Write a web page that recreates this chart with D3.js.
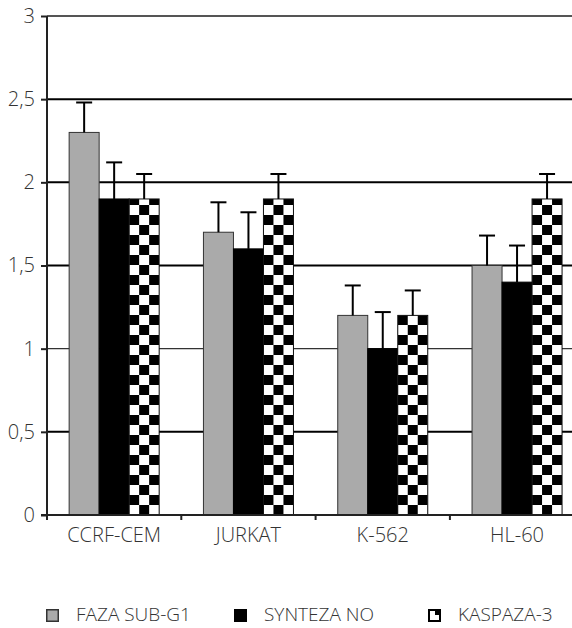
<!DOCTYPE html>
<html>
<head>
<meta charset="utf-8">
<script src="https://cdn.jsdelivr.net/npm/d3@7"></script>
<style>
  body { margin: 0; background: #fff; }
  text { font-family: "Open Sans", sans-serif; font-weight: 300; fill: #333; }
</style>
</head>
<body>
<svg></svg>
<script>
var width = 572;
var height = 628;

// data
var categories = ['CCRF-CEM', 'JURKAT', 'K-562', 'HL-60'];
var series = ['FAZA SUB-G1', 'SYNTEZA NO', 'KASPAZA-3'];
var subG1 = [2.3, 1.7, 1.2, 1.5];
var subG1Err = [2.48, 1.88, 1.38, 1.68];
var syntezaNO = [1.9, 1.6, 1.0, 1.4];
var syntezaNOErr = [2.12, 1.82, 1.22, 1.62];
var kaspaza3 = [1.9, 1.9, 1.2, 1.9];
var kaspaza3Err = [2.05, 2.05, 1.35, 2.05];
var yTicks = [0, 0.5, 1, 1.5, 2, 2.5, 3];

var values = [subG1, syntezaNO, kaspaza3];
var errors = [subG1Err, syntezaNOErr, kaspaza3Err];

var svg = d3.select('svg')
    .attr('width', width)
    .attr('height', height);

var x = d3.scaleBand()
    .domain(categories)
    .range([47, 47 + 4 * 134.3]);

var xs = d3.scaleBand()
    .domain(series)
    .range([0, x.bandwidth()])
    .paddingOuter(0.738);

var y = d3.scaleLinear()
    .domain([0, 3])
    .range([515, 16]);

var fmt = function (d) { return String(d).replace('.', ','); };

// checker patterns, one per category so they line up with the bar
var defs = svg.append('defs');
categories.forEach(function (c, i) {
    var p = defs.append('pattern')
        .attr('id', 'chk' + i)
        .attr('patternUnits', 'userSpaceOnUse')
        .attr('x', x(c) + xs(series[2]))
        .attr('y', y(0))
        .attr('width', 20)
        .attr('height', 20);
    p.append('rect').attr('width', 20).attr('height', 20).attr('fill', '#fff');
    p.append('rect').attr('x', 0).attr('y', 0).attr('width', 10).attr('height', 10).attr('fill', '#000');
    p.append('rect').attr('x', 10).attr('y', 10).attr('width', 10).attr('height', 10).attr('fill', '#000');
});

// grid lines
svg.append('g')
    .selectAll('line')
    .data(yTicks.slice(1))
    .enter()
    .append('line')
    .attr('x1', 47)
    .attr('x2', width)
    .attr('y1', function (d) { return y(d); })
    .attr('y2', function (d) { return y(d); })
    .attr('stroke', function (d) { return d === 3 ? '#555' : (d === 1 ? '#333' : '#000'); })
    .attr('stroke-width', function (d) { return d === 1 ? 1.2 : 2; });

// bars
var fills = ['#aaaaaa', '#000', null];
var strokes = ['#333', '#000', '#111'];
series.forEach(function (s, si) {
    svg.append('g')
        .selectAll('rect')
        .data(categories)
        .enter()
        .append('rect')
        .attr('x', function (c) { return x(c) + xs(s); })
        .attr('y', function (c, i) { return y(values[si][i]); })
        .attr('width', xs.bandwidth())
        .attr('height', function (c, i) { return y(0) - y(values[si][i]); })
        .attr('fill', function (c, i) { return fills[si] || 'url(#chk' + i + ')'; })
        .attr('stroke', strokes[si])
        .attr('stroke-width', 1);
});

// error bars
series.forEach(function (s, si) {
    var g = svg.append('g').attr('stroke', '#000').attr('stroke-width', 2);
    categories.forEach(function (c, i) {
        var cx = x(c) + xs(s) + xs.bandwidth() / 2;
        g.append('line')
            .attr('x1', cx).attr('x2', cx)
            .attr('y1', y(values[si][i])).attr('y2', y(errors[si][i]));
        g.append('line')
            .attr('x1', cx - 8).attr('x2', cx + 8)
            .attr('y1', y(errors[si][i])).attr('y2', y(errors[si][i]));
    });
});

// y axis
var yAxis = svg.append('g')
    .attr('transform', 'translate(47,0)')
    .call(d3.axisLeft(y).tickValues(yTicks).tickFormat(fmt).tickSize(6).tickPadding(6));
yAxis.select('.domain').attr('stroke', '#222').attr('stroke-width', 2).attr('d', 'M0,' + y(3) + 'V' + (y(0) + 5));
yAxis.selectAll('.tick line').attr('stroke', '#222').attr('stroke-width', 2);
yAxis.selectAll('.tick text')
    .style('font-size', '20px')
    .style('font-family', '"Open Sans", sans-serif')
    .style('font-weight', 300)
    .attr('fill', '#333');

// x axis
svg.append('line')
    .attr('x1', 41).attr('x2', width)
    .attr('y1', y(0)).attr('y2', y(0))
    .attr('stroke', '#222').attr('stroke-width', 2);

svg.append('g')
    .selectAll('line')
    .data(categories.slice(1))
    .enter()
    .append('line')
    .attr('x1', function (c) { return x(c); })
    .attr('x2', function (c) { return x(c); })
    .attr('y1', y(0))
    .attr('y2', y(0) + 5)
    .attr('stroke', '#222').attr('stroke-width', 2);

svg.append('g')
    .selectAll('text')
    .data(categories)
    .enter()
    .append('text')
    .attr('x', function (c) { return x(c) + x.bandwidth() / 2; })
    .attr('y', 542)
    .attr('text-anchor', 'middle')
    .style('font-size', '20px')
    .text(function (d) { return d; });

// legend
var legX = [46, 234, 428];
var leg = svg.append('g');
series.forEach(function (s, si) {
    var lx = legX[si];
    if (si === 0) {
        leg.append('rect').attr('x', lx + 0.75).attr('y', 609.75).attr('width', 11.5).attr('height', 11.5)
            .attr('fill', '#aaaaaa').attr('stroke', '#333').attr('stroke-width', 1.5);
    } else if (si === 1) {
        leg.append('rect').attr('x', lx).attr('y', 609).attr('width', 13).attr('height', 13)
            .attr('fill', '#000');
    } else {
        leg.append('rect').attr('x', lx + 1).attr('y', 610).attr('width', 11).attr('height', 11)
            .attr('fill', '#fff').attr('stroke', '#000').attr('stroke-width', 2);
        leg.append('rect').attr('x', lx + 7).attr('y', 610).attr('width', 5).attr('height', 5)
            .attr('fill', '#000');
    }
    leg.append('text')
        .attr('x', lx + 30)
        .attr('y', 621)
        .style('font-size', '19px')
        .text(s);
});
</script>
</body>
</html>
